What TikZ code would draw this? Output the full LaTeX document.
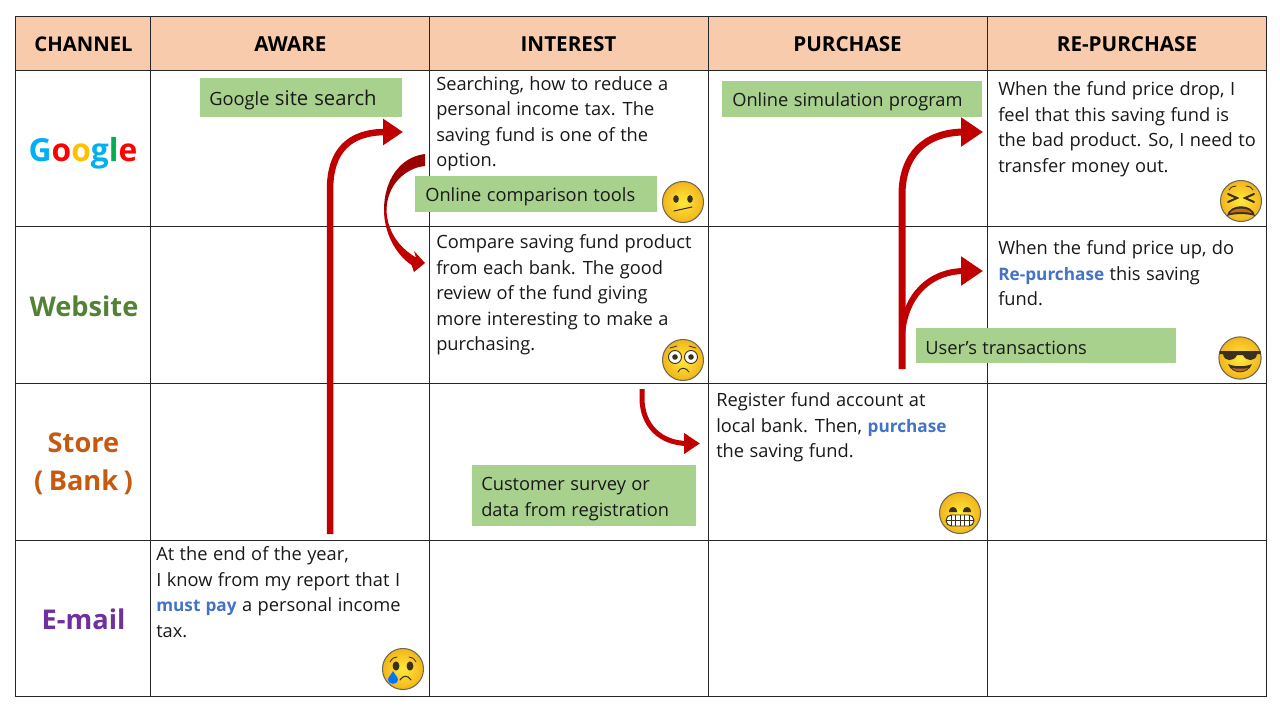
\documentclass[tikz,border=0pt]{standalone}
\usepackage{fontspec}
\setmainfont[WordSpace=1.15]{Open Sans}
\usetikzlibrary{arrows.meta}
\definecolor{headfill}{HTML}{F8CBAD}
\definecolor{greenbox}{HTML}{A9D18E}
\definecolor{arrowred}{HTML}{C00000}
\definecolor{arrowdark}{HTML}{9C0000}
\definecolor{hiblue}{HTML}{4472C4}
\definecolor{gG}{HTML}{00B0F0}
\definecolor{gR}{HTML}{FF0000}
\definecolor{gY}{HTML}{FFC000}
\definecolor{gL}{HTML}{00B050}
\definecolor{webgreen}{HTML}{548235}
\definecolor{storeor}{HTML}{C55A11}
\definecolor{mailpur}{HTML}{7030A0}
\definecolor{faceedge}{HTML}{6E6A55}
\definecolor{facedark}{HTML}{3A3020}
\definecolor{facein}{HTML}{FFE93B}
\definecolor{faceout}{HTML}{F2B51C}
\definecolor{mouthor}{HTML}{C46A1E}
\newcommand{\bodyf}{\fontsize{13.7}{19.1}\selectfont}
\newcommand{\hi}[1]{\textcolor{hiblue}{\fontsize{12.9}{19.1}\selectfont\textbf{#1}}}
\tikzset{
  x=0.75pt,y=-0.75pt,
  gridline/.style={draw=black!85,line width=0.6pt},
  headcell/.style={draw=black!85,line width=0.6pt,fill=headfill,minimum height=40.5pt,inner sep=0pt},
  headlabel/.style={inner sep=0pt,anchor=base,text=black,font=\fontsize{15.5}{18}\selectfont\bfseries},
  chan/.style={inner sep=0pt,align=center,font=\fontsize{20.4}{28.5}\selectfont\bfseries},
  body/.style={inner sep=0pt,anchor=north west,align=left,text=black!90,font=\bodyf},
  tagtext/.style={inner sep=0pt,anchor=west,align=left,text=black!90,font=\bodyf},
  flow/.style={draw=arrowred,line width=#1*0.75pt},
  flow/.default=6.5,
  face/.pic={
    \shade[inner color=facein,outer color=faceout] (0,0) circle (20.5);
    \draw[faceedge,line width=0.8pt] (0,0) circle (20.5);
  },
  eyeball/.style={fill=facedark,draw=none},
}
\begin{document}
\begin{tikzpicture}
\useasboundingbox (0,0) rectangle (1280,720);
\fill[white] (0,0) rectangle (1280,720);

% header cells
\node[headcell,minimum width=101.25pt] (hC) at (83.3,43.2) {};
\node[headcell,minimum width=209.25pt] (hA) at (290.3,43.2) {};
\node[headcell,minimum width=209.25pt] (hI) at (569.3,43.2) {};
\node[headcell,minimum width=209.25pt] (hP) at (848.3,43.2) {};
\node[headcell,minimum width=209.25pt] (hR) at (1127.3,43.2) {};
\node[headlabel,font=\fontsize{15.2}{18}\selectfont\bfseries] (lC) at (83.5,51.5) {CHANNEL};
\node[headlabel] (lA) at (290.5,51.5) {AWARE};
\node[headlabel] (lI) at (568.5,51.5) {INTEREST};
\node[headlabel] (lP) at (847.5,51.5) {PURCHASE};
\node[headlabel] (lR) at (1127,51.5) {RE-PURCHASE};

% grid
\draw[gridline] (15.8,70.2) rectangle (1266.8,696.2);
\foreach \yy in {226.2,383.2,540.2} \draw[gridline] (15.8,\yy) -- (1266.8,\yy);
\foreach \xx in {150.8,429.8,708.8,987.8} \draw[gridline] (\xx,70.2) -- (\xx,696.2);

% channels
\node[chan,font=\fontsize{23.8}{28.5}\selectfont\bfseries] (cG) at (83,153) {\textcolor{gG}{G}\textcolor{gR}{o}\textcolor{gY}{o}\textcolor{gG}{g}\textcolor{gL}{l}\textcolor{gR}{e}};
\node[chan,text=webgreen] (cW) at (84,306) {Website};
\node[chan,text=storeor] (cS) at (83.5,464) {Store\\(\hspace{0.2em}Bank\hspace{0.2em})};
\node[chan,text=mailpur] (cE) at (83.5,619) {E-mail};

% body texts
\node[body] (t1) at (436,76) {Searching, how to reduce a\\personal income tax. The\\saving fund is one of the\\option.};
\node[body] (t2) at (436,234.5) {Compare saving fund product\\from each bank. The good\\review of the fund giving\\more interesting to make a\\purchasing.};
\node[body] (t3) at (716,392.5) {Register fund account at\\local bank. Then, \hi{purchase}\\the saving fund.};
\node[body] (t4) at (156,546.5) {At the end of the year,\\I know from my report that I\\\hi{must pay} a personal income\\tax.};
\node[body] (t5) at (998,81.5) {When the fund price drop, I\\feel that this saving fund is\\the bad product. So, I need to\\transfer money out.};
\node[body] (t6) at (998,240.5) {When the fund price up, do\\\hi{Re-purchase} this saving\\fund.};

% arrow end points
\coordinate (a1s) at (330,534);
\coordinate (a1e) at (403,132);
\coordinate (a3s) at (902,369);
\coordinate (a3e) at (983,132);
\coordinate (a4e) at (983,271);
\coordinate (a5s) at (642,389);
\coordinate (a5e) at (700,443.5);

% arrows
\draw[flow,-{Triangle[length=15pt,width=19pt]}] (a1s) -- (330,190) .. controls (330,150) and (350,132) .. (386,132) -- (a1e);
\draw[flow=7,-{Triangle[length=16.5pt,width=21pt]}] (a3s) -- (902,195) .. controls (902,155) and (925,132) .. (965,132) -- (a3e);
\draw[flow=6,-{Triangle[length=16.5pt,width=21pt]}] (902,335) .. controls (905,295) and (930,271) .. (965,271) -- (a4e);
\draw[flow=5,-{Triangle[length=12pt,width=15pt]}] (a5s) -- (642,398) .. controls (642,425) and (660,443.5) .. (688,443.5) -- (a5e);

% tapered curved arrow
\fill[arrowred] (425,263) -- (414,272) -- (411.5,265) .. controls (395,254) and (384,232) .. (384,210)
  -- (386.5,210) .. controls (387,230) and (398,247) .. (416,257.5) -- (414,251) -- cycle;
\fill[arrowdark] (384,210) .. controls (384,180) and (400,157) .. (425,154) -- (425,166)
  .. controls (405,168) and (387,185) .. (386.5,210) -- cycle;

% green tags
\fill[greenbox] (200,78) rectangle (402,117);
\fill[greenbox] (415,176) rectangle (657,212);
\fill[greenbox] (722,81) rectangle (982,117);
\fill[greenbox] (916,328) rectangle (1176,363);
\fill[greenbox] (472,465) rectangle (696,526);
\node[tagtext] (g1) at (209,99.5) {\fontsize{13.7}{19}\selectfont Google {\fontsize{15.2}{19}\selectfont site search}};
\node[tagtext] (g2) at (425,197) {Online comparison tools};
\node[tagtext] (g3) at (732,102) {Online simulation program};
\node[tagtext] (g4) at (925,348) {User’s transactions};
\node[tagtext] (g5) at (481,499) {Customer survey or\\data from registration};

% confused
\pic (e1) at (683,202) {face};
\begin{scope}[shift={(683,202)}]
\fill[eyeball] (-7,-3) ellipse (2.8 and 3.8);
\fill[eyeball] (7,-3) ellipse (2.8 and 3.8);
\draw[facedark,line width=0.8pt,line cap=round] (-9,9) -- (9,5);
\end{scope}

% flushed
\pic (e2) at (683,360) {face};
\begin{scope}[shift={(683,360)}]
\fill[white] (-8,-3) circle (6.5); \fill[white] (8,-3) circle (6.5);
\draw[facedark,line width=0.7pt] (-8,-3) circle (6.5); \draw[facedark,line width=0.7pt] (8,-3) circle (6.5);
\fill[eyeball] (-8,-3) circle (2.8); \fill[eyeball] (8,-3) circle (2.8);
\draw[facedark,line width=0.7pt,line cap=round] (-5,12) .. controls (-3,7) and (3,7) .. (6,12);
\draw[facedark,line width=0.6pt,line cap=round] (-13,-12) -- (-6,-14);
\draw[facedark,line width=0.6pt,line cap=round] (13,-12) -- (6,-14);
\end{scope}

% grin
\pic (e3) at (960,513) {face};
\begin{scope}[shift={(960,513)}]
\fill[eyeball] (-7,-6) .. controls (-11,-6) and (-11,-1) .. (-11,-1) -- (-3,-1) .. controls (-3,-1) and (-3,-6) .. (-7,-6);
\fill[eyeball] (7,-6) .. controls (3,-6) and (3,-1) .. (3,-1) -- (11,-1) .. controls (11,-1) and (11,-6) .. (7,-6);
\draw[facedark,line width=0.7pt,fill=white,rounded corners=4pt] (-14,2) rectangle (14,13);
\foreach \xx in {-9,-4.5,0,4.5,9} \draw[facedark,line width=0.5pt] (\xx,2) -- (\xx,13);
\draw[facedark,line width=0.5pt] (-14,7.5) -- (14,7.5);
\end{scope}

% cry
\pic (e4) at (403,669) {face};
\begin{scope}[shift={(403,669)}]
\fill[eyeball] (-7,-3) ellipse (3.4 and 4.6);
\fill[eyeball] (7,-3) ellipse (3.4 and 4.6);
\draw[facedark,line width=0.6pt,line cap=round] (-13,-7) .. controls (-11,-11) and (-8,-12) .. (-6,-12);
\draw[facedark,line width=0.6pt,line cap=round] (13,-7) .. controls (11,-11) and (8,-12) .. (6,-12);
\draw[facedark,line width=0.8pt,line cap=round] (-3,11) .. controls (0,6) and (5,6) .. (8,11);
\fill[blue!55!cyan] (-10,2) .. controls (-12,6) and (-15,8) .. (-15,11) .. controls (-15,16) and (-5,16) .. (-5,11) .. controls (-5,8) and (-8,6) .. (-10,2);
\end{scope}

% tired
\pic (e5) at (1241,201) {face};
\begin{scope}[shift={(1241,201)}]
\draw[facedark,line width=1.5pt,line cap=round] (-13,-7) -- (-4,-3) -- (-13,1);
\draw[facedark,line width=1.5pt,line cap=round] (13,-7) -- (4,-3) -- (13,1);
\draw[facedark,line width=0.6pt,line cap=round] (-12,-11) .. controls (-10,-14) and (-8,-15) .. (-5,-15);
\draw[facedark,line width=0.6pt,line cap=round] (12,-11) .. controls (10,-14) and (8,-15) .. (5,-15);
\fill[facedark] (-14,15) .. controls (-12,2) and (12,2) .. (14,15) .. controls (8,12.5) and (-8,12.5) .. (-14,15);
\fill[mouthor] (-11,12.5) .. controls (-9,6) and (9,6) .. (11,12.5) .. controls (6,10.5) and (-6,10.5) .. (-11,12.5);
\end{scope}

% sunglasses
\pic (e6) at (1240,358) [scale=1.03] {face};
\begin{scope}[shift={(1240,358)}]
\fill[facedark] (-20.5,-7) -- (20.5,-7) -- (20.5,-4) -- (17,-4) .. controls (16,4) and (6,4) .. (3,-3) -- (-3,-3) .. controls (-6,4) and (-16,4) .. (-17,-4) -- (-20.5,-4) -- cycle;
\fill[facedark] (-12,6) .. controls (-8,17) and (8,17) .. (12,6) .. controls (6,9) and (-6,9) .. (-12,6);
\fill[mouthor] (-8,10) .. controls (-5,14.5) and (5,14.5) .. (8,10) .. controls (4,11) and (-4,11) .. (-8,10);
\end{scope}
\end{tikzpicture}
\end{document}
